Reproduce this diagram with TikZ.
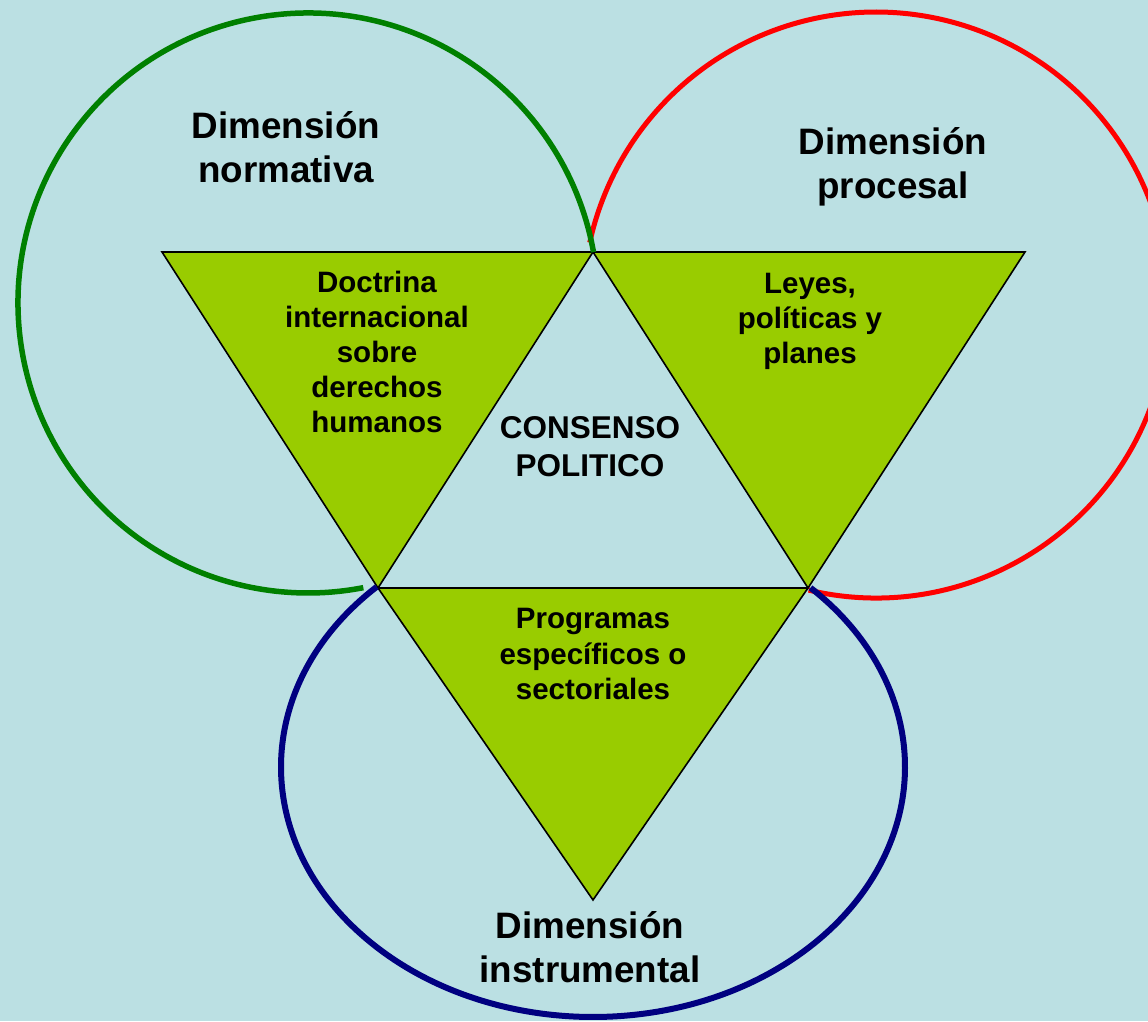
\documentclass[tikz,border=0pt]{standalone}
\usepackage{fontspec}
\setmainfont{Liberation Sans}
\usetikzlibrary{calc}
\definecolor{bgc}{RGB}{187,224,227}
\definecolor{trig}{RGB}{153,204,0}
\definecolor{cgreen}{RGB}{0,128,0}
\definecolor{cred}{RGB}{255,0,0}
\definecolor{cblue}{RGB}{0,0,128}
\begin{document}
\begin{tikzpicture}[x=1pt,y=1pt,
  tri/.style={fill=trig,draw=black,line width=1.6pt,line join=miter},
  title/.style={align=center,inner sep=0pt,font=\bfseries\fontsize{36.8}{44}\selectfont},
  inner/.style={align=center,inner sep=0pt,font=\bfseries\fontsize{29.5}{35.2}\selectfont},
  core/.style={align=center,inner sep=0pt,font=\bfseries\fontsize{31.5}{38}\selectfont}]
\fill[bgc] (0,0) rectangle (1148,1021);
\useasboundingbox (0,0) rectangle (1148,1021);
% vertices
\coordinate (A) at (162,769);
\coordinate (B) at (593,769);
\coordinate (C) at (1025,769);
\coordinate (D) at (378,433);
\coordinate (E) at (808,433);
\coordinate (F) at (593,121);
% circle centres
\coordinate (gc) at (308,718);
\coordinate (rc) at (876,716);
\coordinate (bc) at (593,254);
% triangles
\draw[tri] (A) -- (B) -- (D) -- cycle;
\draw[tri] (B) -- (C) -- (E) -- cycle;
\draw[tri] (D) -- (E) -- (F) -- cycle;
% arcs
\draw[cred,line width=5pt] ($(rc)+(-103.3:293)$) arc[start angle=-103.3,end angle=167.7,radius=293];
\draw[cgreen,line width=5.5pt] ($(gc)+(10.1:290)$) arc[start angle=10.1,end angle=281,radius=290];
\draw[cblue,line width=6pt] ($(bc)+(133.9:312 and 250)$) arc[start angle=133.9,end angle=405.8,x radius=312,y radius=250];
% texts
\node[title] (tnorm) at (286,873.5) {Dimensión\\normativa};
\node[title] (tproc) at (893,854) {Dimensión\\procesal};
\node[title] (tinst) at (590,73.5) {Dimensión\\instrumental};
\node[inner] (tdoc) at (377,669) {Doctrina\\internacional\\sobre\\derechos\\humanos};
\node[inner] (tley) at (810,699.5) {Leyes,\\políticas y\\planes};
\node[core] (tcon) at (590,574.5) {CONSENSO\\POLITICO};
\node[inner] (tprog) at (593,367) {Programas\\específicos o\\sectoriales};
\end{tikzpicture}
\end{document}
